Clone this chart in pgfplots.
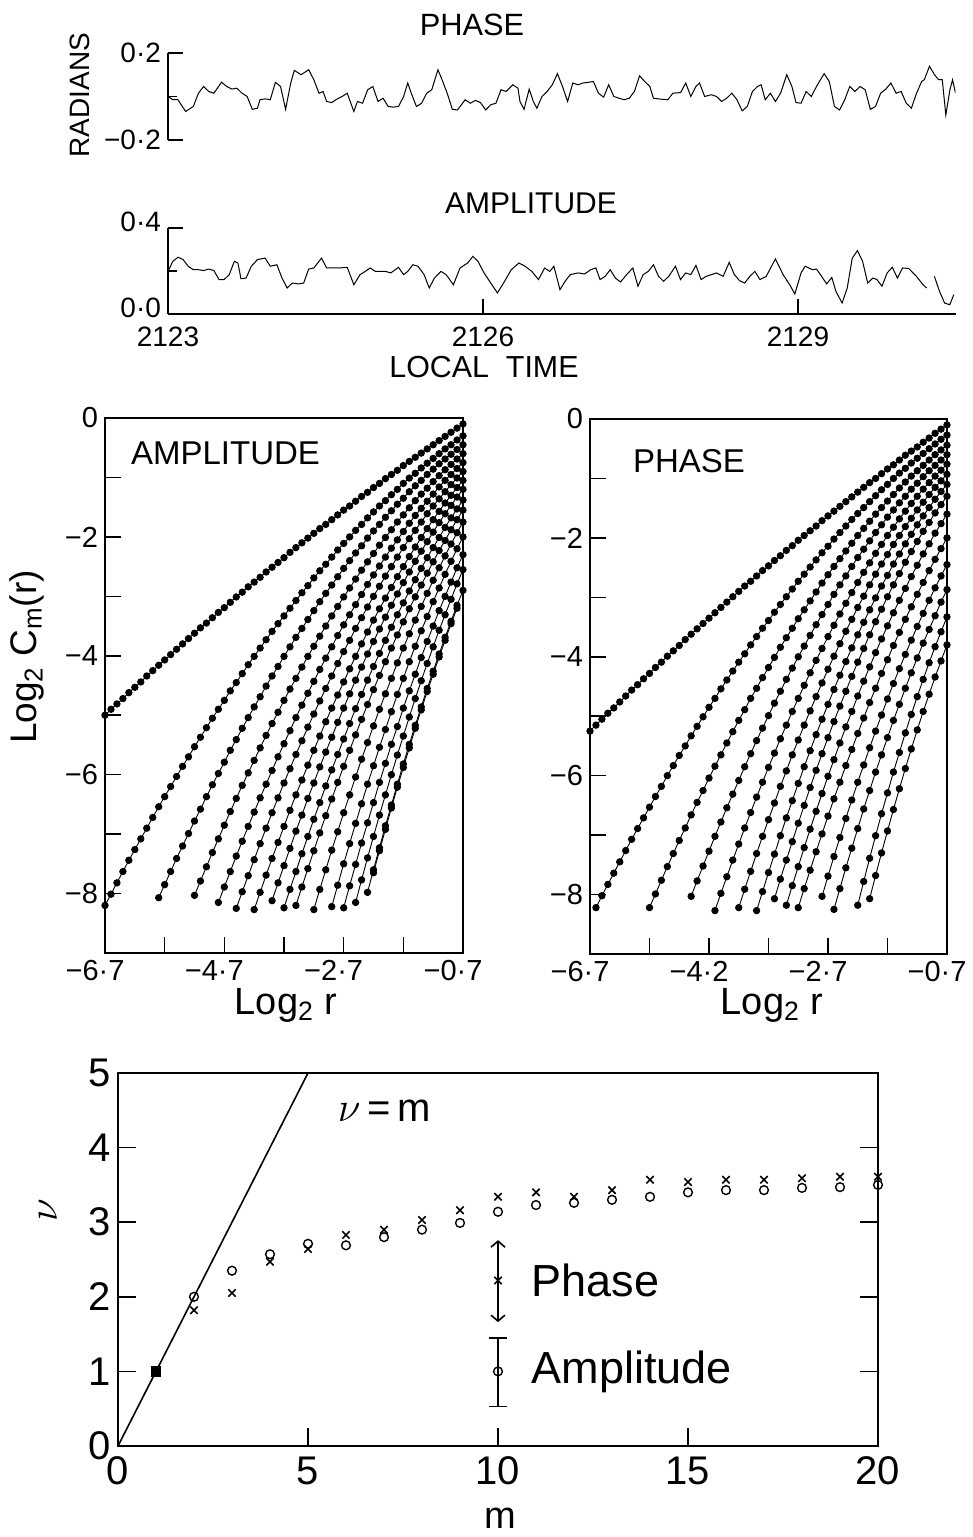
\documentclass[border=0pt]{standalone}
\usepackage{fontspec}
\setmainfont{Liberation Sans}
\usepackage{pgfplots}
\pgfplotsset{compat=1.18}
\usetikzlibrary{arrows.meta}
\pgfplotsset{
  dotc/.style={black, line width=0.45pt, mark=*, mark size=1.6pt, mark options={solid}},
  mid/.style={scale only axis, anchor=south west, xmin=-6.7, xmax=-0.7, ymin=-9, ymax=0,
    xtick={-6.7,-5.7,-4.7,-3.7,-2.7,-1.7,-0.7},
    ytick={-8,-7,-6,-5,-4,-3,-2,-1,0}, yticklabels={−8,,−6,,−4,,−2,,0},
    xtick pos=bottom, ytick pos=left, tick align=inside, major tick length=8pt,
    axis line style={line width=0.8pt}, every tick/.style={black,line width=0.8pt},
    tick label style={font=\fontsize{14.5}{16}\selectfont},
    xticklabel style={xshift=-5pt}},
}
\begin{document}
\begin{tikzpicture}
\useasboundingbox (0,0) rectangle (486.5pt,768.5pt);
% ---------------- top: phase time series
\begin{axis}[at={(84pt,698.5pt)}, anchor=south west, scale only axis,
  width=393.75pt, height=43.5pt, xmin=0, xmax=7.5, ymin=-0.2, ymax=0.2,
  axis x line=none, axis y line*=left,
  ytick={-0.2,0.2}, yticklabels={−0·2,0·2}, minor ytick={0},
  tick align=inside, major tick length=7.5pt, minor tick length=4.5pt,
  axis line style={line width=0.8pt}, every tick/.style={black,line width=0.8pt},
  tick label style={font=\fontsize{14}{16}\selectfont}]
\addplot[black, line width=0.5pt] coordinates {
(0,0) (0.046,-0.015) (0.095,-0.015) (0.168,-0.069) (0.241,-0.046) (0.290,0.015) (0.339,0.046) (0.388,0.023) (0.437,0.015) (0.510,0.066) (0.559,0.046) (0.608,0.034) (0.656,0.038) (0.705,0.015) (0.754,0) (0.803,-0.059) (0.852,-0.054) (0.876,-0.015) (0.925,-0.011) (0.974,-0.015) (1.023,0.065) (1.072,0.046) (1.120,-0.059) (1.169,0.062) (1.203,0.120) (1.267,0.100) (1.340,0.123) (1.389,0.077) (1.438,0.015) (1.477,0.023) (1.511,-0.023) (1.560,-0.028) (1.609,-0.012) (1.658,0) (1.707,0.015) (1.770,-0.069) (1.804,-0.023) (1.853,-0.031) (1.902,0.031) (1.951,0.046) (2.000,-0.023) (2.048,-0.008) (2.097,-0.046) (2.146,-0.049) (2.195,-0.046) (2.244,0) (2.283,0.062) (2.317,0.015) (2.366,-0.046) (2.415,-0.031) (2.464,0.015) (2.512,0.031) (2.571,0.123) (2.610,0.077) (2.659,0.015) (2.708,-0.059) (2.757,-0.062) (2.830,-0.015) (2.879,-0.031) (2.928,-0.018) (2.976,-0.028) (3.025,-0.062) (3.074,-0.038) (3.123,-0.031) (3.172,0.031) (3.221,0.023) (3.284,0.054) (3.333,0.038) (3.352,-0.023) (3.391,-0.059) (3.440,0.034) (3.479,-0.023) (3.513,-0.054) (3.562,0) (3.611,0.023) (3.660,0.054) (3.709,0.105) (3.757,0.046) (3.806,-0.023) (3.855,0.062) (3.904,0.054) (3.953,0.062) (4.002,0.065) (4.051,0.069) (4.100,0.015) (4.149,-0.003) (4.197,0.054) (4.246,0) (4.295,-0.008) (4.344,-0.015) (4.393,-0.008) (4.442,0.023) (4.491,0.095) (4.540,0.069) (4.589,0.046) (4.623,-0.008) (4.687,-0.012) (4.760,-0.015) (4.808,0.015) (4.882,0.018) (4.931,0.062) (4.979,0) (5.028,0.046) (5.062,0.062) (5.111,0) (5.175,0.008) (5.224,0) (5.272,-0.023) (5.321,-0.008) (5.370,0.015) (5.419,-0.015) (5.468,-0.066) (5.517,-0.046) (5.566,0.023) (5.615,0.046) (5.649,0.054) (5.688,-0.015) (5.737,0.015) (5.785,-0.023) (5.834,0.015) (5.893,0.100) (5.942,0.046) (5.981,-0.028) (6.029,-0.031) (6.078,0.023) (6.127,0) (6.176,0.046) (6.249,0.105) (6.298,0.069) (6.347,-0.046) (6.396,-0.062) (6.445,-0.015) (6.493,0.046) (6.542,0.023) (6.591,0.046) (6.640,0.031) (6.689,-0.059) (6.738,-0.046) (6.787,0.015) (6.836,0.034) (6.885,0.062) (6.934,0.015) (6.982,0.023) (7.031,-0.031) (7.080,-0.054) (7.129,0.015) (7.178,0.069) (7.203,0.077) (7.252,0.139) (7.300,0.100) (7.339,0.077) (7.374,0.077) (7.408,-0.085) (7.447,0.031) (7.472,0.077) (7.500,0.015)};
\end{axis}
% ---------------- top: amplitude time series
\begin{axis}[at={(84pt,611.5pt)}, anchor=south west, scale only axis,
  width=393.75pt, height=43pt, xmin=0, xmax=7.5, ymin=0, ymax=0.4,
  axis x line*=bottom, axis y line*=left,
  xtick={0,3,6}, xticklabels={2123,2126,2129},
  ytick={0,0.4}, yticklabels={0·0,0·4}, minor ytick={0.2},
  tick align=inside, major tick length=7.5pt, minor tick length=4.5pt,
  axis line style={line width=0.8pt}, every tick/.style={black,line width=0.8pt},
  tick label style={font=\fontsize{14}{16}\selectfont},
  xticklabel style={yshift=-3pt}, yticklabel style={yshift=3pt},
  unbounded coords=jump]
\addplot[black, line width=0.5pt] coordinates {
(0,0.198) (0.046,0.245) (0.095,0.264) (0.144,0.253) (0.192,0.222) (0.241,0.206) (0.290,0.206) (0.339,0.202) (0.388,0.209) (0.437,0.202) (0.486,0.160) (0.534,0.160) (0.583,0.183) (0.632,0.245) (0.666,0.237) (0.695,0.164) (0.744,0.167) (0.793,0.222) (0.852,0.253) (0.925,0.260) (0.974,0.222) (1.037,0.229) (1.086,0.167) (1.135,0.121) (1.184,0.144) (1.243,0.140) (1.292,0.144) (1.340,0.209) (1.389,0.214) (1.462,0.260) (1.511,0.214) (1.560,0.214) (1.633,0.214) (1.707,0.217) (1.770,0.136) (1.829,0.183) (1.878,0.198) (1.926,0.214) (1.975,0.198) (2.024,0.198) (2.073,0.198) (2.122,0.191) (2.195,0.217) (2.244,0.183) (2.283,0.198) (2.332,0.229) (2.381,0.222) (2.439,0.183) (2.488,0.121) (2.537,0.167) (2.600,0.198) (2.649,0.183) (2.718,0.136) (2.781,0.214) (2.854,0.237) (2.903,0.268) (2.952,0.245) (3.010,0.191) (3.074,0.144) (3.137,0.098) (3.196,0.144) (3.269,0.206) (3.342,0.237) (3.401,0.222) (3.465,0.198) (3.528,0.160) (3.587,0.214) (3.636,0.198) (3.675,0.222) (3.733,0.113) (3.782,0.152) (3.831,0.183) (3.904,0.191) (3.968,0.186) (4.026,0.206) (4.075,0.214) (4.115,0.160) (4.163,0.175) (4.212,0.206) (4.261,0.167) (4.310,0.149) (4.368,0.183) (4.427,0.214) (4.476,0.129) (4.525,0.183) (4.574,0.198) (4.623,0.229) (4.672,0.175) (4.720,0.152) (4.769,0.175) (4.833,0.222) (4.881,0.160) (4.930,0.191) (4.979,0.183) (5.028,0.226) (5.077,0.160) (5.125,0.175) (5.174,0.183) (5.223,0.191) (5.287,0.175) (5.345,0.240) (5.394,0.183) (5.443,0.155) (5.492,0.144) (5.541,0.175) (5.589,0.198) (5.638,0.160) (5.697,0.175) (5.785,0.256) (5.858,0.183) (5.921,0.136) (5.970,0.093) (6.029,0.191) (6.068,0.222) (6.137,0.206) (6.176,0.209) (6.225,0.175) (6.273,0.140) (6.322,0.170) (6.361,0.105) (6.420,0.051) (6.469,0.121) (6.517,0.260) (6.566,0.295) (6.615,0.245) (6.664,0.144) (6.713,0.167) (6.752,0.160) (6.800,0.129) (6.849,0.191) (6.898,0.217) (6.947,0.167) (6.996,0.214) (7.054,0.212) (7.128,0.175) (7.191,0.136) (7.225,0.121) (7.26,nan) (7.299,0.175) (7.348,0.105) (7.396,0.051) (7.445,0.043) (7.484,0.090)};
\end{axis}
% ---------------- middle left: amplitude C_m(r)
\begin{axis}[mid, at={(52.5pt,292pt)}, width=179pt, height=267.5pt,
  xticklabels={−6·7,,−4·7,,−2·7,,−0·7}]
\addplot[dotc] coordinates {(-6.7,-5.00)(-6.6,-4.90)(-6.5,-4.81)(-6.4,-4.72)(-6.3,-4.62)(-6.2,-4.53)(-6.1,-4.44)(-6.0,-4.34)(-5.9,-4.25)(-5.8,-4.16)(-5.7,-4.07)(-5.6,-3.98)(-5.5,-3.89)(-5.4,-3.80)(-5.3,-3.71)(-5.2,-3.62)(-5.1,-3.53)(-5.0,-3.45)(-4.9,-3.36)(-4.8,-3.27)(-4.7,-3.19)(-4.6,-3.10)(-4.5,-3.01)(-4.4,-2.93)(-4.3,-2.84)(-4.2,-2.76)(-4.1,-2.68)(-4.0,-2.59)(-3.9,-2.51)(-3.8,-2.43)(-3.7,-2.35)(-3.6,-2.26)(-3.5,-2.18)(-3.4,-2.10)(-3.3,-2.02)(-3.2,-1.94)(-3.1,-1.86)(-3.0,-1.79)(-2.9,-1.71)(-2.8,-1.63)(-2.7,-1.55)(-2.6,-1.48)(-2.5,-1.40)(-2.4,-1.32)(-2.3,-1.25)(-2.2,-1.17)(-2.1,-1.10)(-2.0,-1.02)(-1.9,-0.95)(-1.8,-0.88)(-1.7,-0.80)(-1.6,-0.73)(-1.5,-0.66)(-1.4,-0.59)(-1.3,-0.52)(-1.2,-0.45)(-1.1,-0.38)(-1.0,-0.31)(-0.9,-0.24)(-0.8,-0.17)(-0.7,-0.10)};
\addplot[dotc] coordinates {(-6.7,-8.20)(-6.6,-8.01)(-6.5,-7.82)(-6.4,-7.63)(-6.3,-7.44)(-6.2,-7.26)(-6.1,-7.08)(-6.0,-6.90)(-5.9,-6.72)(-5.8,-6.54)(-5.7,-6.37)(-5.6,-6.20)(-5.5,-6.03)(-5.4,-5.86)(-5.3,-5.70)(-5.2,-5.53)(-5.1,-5.37)(-5.0,-5.21)(-4.9,-5.05)(-4.8,-4.90)(-4.7,-4.75)(-4.6,-4.59)(-4.5,-4.45)(-4.4,-4.30)(-4.3,-4.15)(-4.2,-4.01)(-4.1,-3.87)(-4.0,-3.73)(-3.9,-3.59)(-3.8,-3.46)(-3.7,-3.33)(-3.6,-3.20)(-3.5,-3.07)(-3.4,-2.94)(-3.3,-2.82)(-3.2,-2.69)(-3.1,-2.57)(-3.0,-2.46)(-2.9,-2.34)(-2.8,-2.22)(-2.7,-2.11)(-2.6,-2.00)(-2.5,-1.89)(-2.4,-1.79)(-2.3,-1.68)(-2.2,-1.58)(-2.1,-1.48)(-2.0,-1.39)(-1.9,-1.29)(-1.8,-1.20)(-1.7,-1.10)(-1.6,-1.01)(-1.5,-0.93)(-1.4,-0.84)(-1.3,-0.76)(-1.2,-0.68)(-1.1,-0.60)(-1.0,-0.52)(-0.9,-0.45)(-0.8,-0.37)(-0.7,-0.30)};
\addplot[dotc] coordinates {(-5.8,-8.07)(-5.7,-7.85)(-5.6,-7.63)(-5.5,-7.41)(-5.4,-7.20)(-5.3,-6.99)(-5.2,-6.78)(-5.1,-6.58)(-5.0,-6.37)(-4.9,-6.17)(-4.8,-5.98)(-4.7,-5.79)(-4.6,-5.59)(-4.5,-5.41)(-4.4,-5.22)(-4.3,-5.04)(-4.2,-4.86)(-4.1,-4.69)(-4.0,-4.51)(-3.9,-4.34)(-3.8,-4.18)(-3.7,-4.01)(-3.6,-3.85)(-3.5,-3.69)(-3.4,-3.54)(-3.3,-3.39)(-3.2,-3.24)(-3.1,-3.09)(-3.0,-2.95)(-2.9,-2.81)(-2.8,-2.67)(-2.7,-2.53)(-2.6,-2.40)(-2.5,-2.27)(-2.4,-2.15)(-2.3,-2.02)(-2.2,-1.90)(-2.1,-1.79)(-2.0,-1.67)(-1.9,-1.56)(-1.8,-1.45)(-1.7,-1.35)(-1.6,-1.24)(-1.5,-1.14)(-1.4,-1.05)(-1.3,-0.95)(-1.2,-0.86)(-1.1,-0.77)(-1.0,-0.69)(-0.9,-0.61)(-0.8,-0.53)(-0.7,-0.45)};
\addplot[dotc] coordinates {(-5.2,-8.03)(-5.1,-7.79)(-5.0,-7.55)(-4.9,-7.31)(-4.8,-7.08)(-4.7,-6.85)(-4.6,-6.62)(-4.5,-6.40)(-4.4,-6.18)(-4.3,-5.97)(-4.2,-5.76)(-4.1,-5.55)(-4.0,-5.34)(-3.9,-5.14)(-3.8,-4.95)(-3.7,-4.75)(-3.6,-4.56)(-3.5,-4.38)(-3.4,-4.19)(-3.3,-4.01)(-3.2,-3.84)(-3.1,-3.67)(-3.0,-3.50)(-2.9,-3.33)(-2.8,-3.17)(-2.7,-3.01)(-2.6,-2.86)(-2.5,-2.71)(-2.4,-2.56)(-2.3,-2.42)(-2.2,-2.28)(-2.1,-2.14)(-2.0,-2.01)(-1.9,-1.88)(-1.8,-1.75)(-1.7,-1.63)(-1.6,-1.51)(-1.5,-1.39)(-1.4,-1.28)(-1.3,-1.18)(-1.2,-1.07)(-1.1,-0.97)(-1.0,-0.87)(-0.9,-0.78)(-0.8,-0.69)(-0.7,-0.60)};
\addplot[dotc] coordinates {(-4.8,-8.15)(-4.7,-7.89)(-4.6,-7.63)(-4.5,-7.37)(-4.4,-7.12)(-4.3,-6.87)(-4.2,-6.63)(-4.1,-6.39)(-4.0,-6.16)(-3.9,-5.93)(-3.8,-5.70)(-3.7,-5.48)(-3.6,-5.26)(-3.5,-5.04)(-3.4,-4.83)(-3.3,-4.63)(-3.2,-4.43)(-3.1,-4.23)(-3.0,-4.04)(-2.9,-3.85)(-2.8,-3.66)(-2.7,-3.48)(-2.6,-3.31)(-2.5,-3.14)(-2.4,-2.97)(-2.3,-2.80)(-2.2,-2.64)(-2.1,-2.49)(-2.0,-2.34)(-1.9,-2.19)(-1.8,-2.05)(-1.7,-1.91)(-1.6,-1.77)(-1.5,-1.64)(-1.4,-1.52)(-1.3,-1.40)(-1.2,-1.28)(-1.1,-1.16)(-1.0,-1.05)(-0.9,-0.95)(-0.8,-0.85)(-0.7,-0.75)};
\addplot[dotc] coordinates {(-4.5,-8.25)(-4.4,-7.97)(-4.3,-7.70)(-4.2,-7.43)(-4.1,-7.16)(-4.0,-6.90)(-3.9,-6.64)(-3.8,-6.39)(-3.7,-6.14)(-3.6,-5.90)(-3.5,-5.66)(-3.4,-5.43)(-3.3,-5.20)(-3.2,-4.98)(-3.1,-4.76)(-3.0,-4.55)(-2.9,-4.34)(-2.8,-4.13)(-2.7,-3.93)(-2.6,-3.74)(-2.5,-3.54)(-2.4,-3.36)(-2.3,-3.18)(-2.2,-3.00)(-2.1,-2.83)(-2.0,-2.66)(-1.9,-2.50)(-1.8,-2.34)(-1.7,-2.18)(-1.6,-2.03)(-1.5,-1.89)(-1.4,-1.75)(-1.3,-1.61)(-1.2,-1.48)(-1.1,-1.36)(-1.0,-1.24)(-0.9,-1.12)(-0.8,-1.01)(-0.7,-0.90)};
\addplot[dotc] coordinates {(-4.2,-8.27)(-4.1,-7.98)(-4.0,-7.69)(-3.9,-7.41)(-3.8,-7.14)(-3.7,-6.87)(-3.6,-6.60)(-3.5,-6.34)(-3.4,-6.09)(-3.3,-5.84)(-3.2,-5.59)(-3.1,-5.35)(-3.0,-5.11)(-2.9,-4.88)(-2.8,-4.66)(-2.7,-4.44)(-2.6,-4.22)(-2.5,-4.01)(-2.4,-3.80)(-2.3,-3.60)(-2.2,-3.40)(-2.1,-3.21)(-2.0,-3.03)(-1.9,-2.85)(-1.8,-2.67)(-1.7,-2.50)(-1.6,-2.33)(-1.5,-2.17)(-1.4,-2.01)(-1.3,-1.86)(-1.2,-1.71)(-1.1,-1.57)(-1.0,-1.43)(-0.9,-1.30)(-0.8,-1.17)(-0.7,-1.05)};
\addplot[dotc] coordinates {(-3.9,-8.12)(-3.8,-7.82)(-3.7,-7.53)(-3.6,-7.24)(-3.5,-6.95)(-3.4,-6.68)(-3.3,-6.40)(-3.2,-6.14)(-3.1,-5.87)(-3.0,-5.62)(-2.9,-5.37)(-2.8,-5.12)(-2.7,-4.88)(-2.6,-4.64)(-2.5,-4.41)(-2.4,-4.19)(-2.3,-3.97)(-2.2,-3.76)(-2.1,-3.55)(-2.0,-3.35)(-1.9,-3.15)(-1.8,-2.96)(-1.7,-2.77)(-1.6,-2.59)(-1.5,-2.41)(-1.4,-2.24)(-1.3,-2.08)(-1.2,-1.92)(-1.1,-1.76)(-1.0,-1.61)(-0.9,-1.47)(-0.8,-1.33)(-0.7,-1.20)};
\addplot[dotc] coordinates {(-3.7,-8.24)(-3.6,-7.93)(-3.5,-7.63)(-3.4,-7.33)(-3.3,-7.04)(-3.2,-6.75)(-3.1,-6.47)(-3.0,-6.19)(-2.9,-5.92)(-2.8,-5.66)(-2.7,-5.40)(-2.6,-5.14)(-2.5,-4.89)(-2.4,-4.65)(-2.3,-4.41)(-2.2,-4.18)(-2.1,-3.96)(-2.0,-3.74)(-1.9,-3.52)(-1.8,-3.31)(-1.7,-3.11)(-1.6,-2.91)(-1.5,-2.72)(-1.4,-2.53)(-1.3,-2.35)(-1.2,-2.18)(-1.1,-2.01)(-1.0,-1.84)(-0.9,-1.68)(-0.8,-1.53)(-0.7,-1.38)};
\addplot[dotc] coordinates {(-3.5,-8.20)(-3.4,-7.89)(-3.3,-7.58)(-3.2,-7.28)(-3.1,-6.98)(-3.0,-6.69)(-2.9,-6.41)(-2.8,-6.13)(-2.7,-5.86)(-2.6,-5.59)(-2.5,-5.33)(-2.4,-5.07)(-2.3,-4.82)(-2.2,-4.57)(-2.1,-4.33)(-2.0,-4.10)(-1.9,-3.87)(-1.8,-3.65)(-1.7,-3.43)(-1.6,-3.21)(-1.5,-3.01)(-1.4,-2.81)(-1.3,-2.61)(-1.2,-2.42)(-1.1,-2.23)(-1.0,-2.06)(-0.9,-1.88)(-0.8,-1.71)(-0.7,-1.55)};
\addplot[dotc] coordinates {(-3.2,-8.27)(-3.1,-7.93)(-3.0,-7.60)(-2.9,-7.27)(-2.8,-6.96)(-2.7,-6.64)(-2.6,-6.34)(-2.5,-6.04)(-2.4,-5.74)(-2.3,-5.46)(-2.2,-5.18)(-2.1,-4.90)(-2.0,-4.64)(-1.9,-4.38)(-1.8,-4.12)(-1.7,-3.87)(-1.6,-3.63)(-1.5,-3.40)(-1.4,-3.17)(-1.3,-2.95)(-1.2,-2.73)(-1.1,-2.52)(-1.0,-2.32)(-0.9,-2.12)(-0.8,-1.93)(-0.7,-1.75)};
\addplot[dotc] coordinates {(-2.9,-8.22)(-2.8,-7.86)(-2.7,-7.50)(-2.6,-7.16)(-2.5,-6.82)(-2.4,-6.49)(-2.3,-6.16)(-2.2,-5.85)(-2.1,-5.54)(-2.0,-5.24)(-1.9,-4.94)(-1.8,-4.65)(-1.7,-4.38)(-1.6,-4.10)(-1.5,-3.84)(-1.4,-3.58)(-1.3,-3.34)(-1.2,-3.09)(-1.1,-2.86)(-1.0,-2.63)(-0.9,-2.41)(-0.8,-2.20)(-0.7,-2.00)};
\addplot[dotc] coordinates {(-2.7,-8.24)(-2.6,-7.87)(-2.5,-7.51)(-2.4,-7.15)(-2.3,-6.81)(-2.2,-6.47)(-2.1,-6.13)(-2.0,-5.81)(-1.9,-5.49)(-1.8,-5.19)(-1.7,-4.88)(-1.6,-4.59)(-1.5,-4.31)(-1.4,-4.03)(-1.3,-3.76)(-1.2,-3.50)(-1.1,-3.24)(-1.0,-3.00)(-0.9,-2.76)(-0.8,-2.52)(-0.7,-2.30)};
\addplot[dotc] coordinates {(-2.5,-8.15)(-2.4,-7.77)(-2.3,-7.40)(-2.2,-7.04)(-2.1,-6.68)(-2.0,-6.34)(-1.9,-6.00)(-1.8,-5.67)(-1.7,-5.35)(-1.6,-5.03)(-1.5,-4.72)(-1.4,-4.42)(-1.3,-4.13)(-1.2,-3.85)(-1.1,-3.57)(-1.0,-3.31)(-0.9,-3.05)(-0.8,-2.79)(-0.7,-2.55)};
\addplot[dotc] coordinates {(-2.3,-7.98)(-2.2,-7.60)(-2.1,-7.23)(-2.0,-6.86)(-1.9,-6.51)(-1.8,-6.16)(-1.7,-5.82)(-1.6,-5.49)(-1.5,-5.17)(-1.4,-4.86)(-1.3,-4.55)(-1.2,-4.26)(-1.1,-3.97)(-1.0,-3.69)(-0.9,-3.42)(-0.8,-3.15)(-0.7,-2.90)};
\addplot[dotc] coordinates {(-2.2,-7.65)(-2.1,-7.28)(-2.0,-6.92)(-1.9,-6.56)(-1.8,-6.21)(-1.7,-5.88)(-1.6,-5.55)(-1.5,-5.22)(-1.4,-4.91)(-1.3,-4.60)(-1.2,-4.31)(-1.1,-4.02)(-1.0,-3.74)(-0.9,-3.46)(-0.8,-3.20)};
\end{axis}
% ---------------- middle right: phase C_m(r)
\begin{axis}[mid, at={(295pt,291.5pt)}, width=178.5pt, height=267.5pt,
  xticklabels={−6·7,,−4·2,,−2·7,,−0·7}]
\addplot[dotc] coordinates {(-6.7,-5.25)(-6.6,-5.15)(-6.5,-5.05)(-6.4,-4.95)(-6.3,-4.86)(-6.2,-4.76)(-6.1,-4.66)(-6.0,-4.56)(-5.9,-4.47)(-5.8,-4.37)(-5.7,-4.28)(-5.6,-4.18)(-5.5,-4.09)(-5.4,-3.99)(-5.3,-3.90)(-5.2,-3.81)(-5.1,-3.71)(-5.0,-3.62)(-4.9,-3.53)(-4.8,-3.44)(-4.7,-3.35)(-4.6,-3.26)(-4.5,-3.17)(-4.4,-3.08)(-4.3,-2.99)(-4.2,-2.90)(-4.1,-2.81)(-4.0,-2.73)(-3.9,-2.64)(-3.8,-2.55)(-3.7,-2.47)(-3.6,-2.38)(-3.5,-2.30)(-3.4,-2.21)(-3.3,-2.13)(-3.2,-2.04)(-3.1,-1.96)(-3.0,-1.88)(-2.9,-1.80)(-2.8,-1.71)(-2.7,-1.63)(-2.6,-1.55)(-2.5,-1.47)(-2.4,-1.39)(-2.3,-1.31)(-2.2,-1.23)(-2.1,-1.15)(-2.0,-1.07)(-1.9,-1.00)(-1.8,-0.92)(-1.7,-0.84)(-1.6,-0.77)(-1.5,-0.69)(-1.4,-0.61)(-1.3,-0.54)(-1.2,-0.47)(-1.1,-0.39)(-1.0,-0.32)(-0.9,-0.24)(-0.8,-0.17)(-0.7,-0.10)};
\addplot[dotc] coordinates {(-6.6,-8.22)(-6.5,-8.02)(-6.4,-7.83)(-6.3,-7.64)(-6.2,-7.45)(-6.1,-7.26)(-6.0,-7.07)(-5.9,-6.89)(-5.8,-6.71)(-5.7,-6.53)(-5.6,-6.35)(-5.5,-6.18)(-5.4,-6.00)(-5.3,-5.83)(-5.2,-5.66)(-5.1,-5.50)(-5.0,-5.33)(-4.9,-5.17)(-4.8,-5.01)(-4.7,-4.85)(-4.6,-4.70)(-4.5,-4.54)(-4.4,-4.39)(-4.3,-4.24)(-4.2,-4.09)(-4.1,-3.95)(-4.0,-3.80)(-3.9,-3.66)(-3.8,-3.52)(-3.7,-3.39)(-3.6,-3.25)(-3.5,-3.12)(-3.4,-2.99)(-3.3,-2.86)(-3.2,-2.73)(-3.1,-2.61)(-3.0,-2.49)(-2.9,-2.37)(-2.8,-2.25)(-2.7,-2.14)(-2.6,-2.02)(-2.5,-1.91)(-2.4,-1.80)(-2.3,-1.69)(-2.2,-1.59)(-2.1,-1.49)(-2.0,-1.39)(-1.9,-1.29)(-1.8,-1.19)(-1.7,-1.10)(-1.6,-1.00)(-1.5,-0.91)(-1.4,-0.83)(-1.3,-0.74)(-1.2,-0.66)(-1.1,-0.58)(-1.0,-0.50)(-0.9,-0.42)(-0.8,-0.34)(-0.7,-0.27)};
\addplot[dotc] coordinates {(-5.7,-8.22)(-5.6,-7.99)(-5.5,-7.76)(-5.4,-7.53)(-5.3,-7.31)(-5.2,-7.09)(-5.1,-6.88)(-5.0,-6.66)(-4.9,-6.45)(-4.8,-6.25)(-4.7,-6.04)(-4.6,-5.84)(-4.5,-5.65)(-4.4,-5.45)(-4.3,-5.26)(-4.2,-5.07)(-4.1,-4.89)(-4.0,-4.70)(-3.9,-4.53)(-3.8,-4.35)(-3.7,-4.18)(-3.6,-4.01)(-3.5,-3.84)(-3.4,-3.68)(-3.3,-3.52)(-3.2,-3.36)(-3.1,-3.21)(-3.0,-3.06)(-2.9,-2.91)(-2.8,-2.76)(-2.7,-2.62)(-2.6,-2.48)(-2.5,-2.35)(-2.4,-2.22)(-2.3,-2.09)(-2.2,-1.96)(-2.1,-1.84)(-2.0,-1.72)(-1.9,-1.60)(-1.8,-1.49)(-1.7,-1.38)(-1.6,-1.27)(-1.5,-1.16)(-1.4,-1.06)(-1.3,-0.96)(-1.2,-0.87)(-1.1,-0.78)(-1.0,-0.69)(-0.9,-0.60)(-0.8,-0.52)(-0.7,-0.44)};
\addplot[dotc] coordinates {(-5.0,-8.03)(-4.9,-7.77)(-4.8,-7.52)(-4.7,-7.27)(-4.6,-7.02)(-4.5,-6.78)(-4.4,-6.54)(-4.3,-6.31)(-4.2,-6.08)(-4.1,-5.85)(-4.0,-5.63)(-3.9,-5.41)(-3.8,-5.20)(-3.7,-4.99)(-3.6,-4.78)(-3.5,-4.58)(-3.4,-4.38)(-3.3,-4.19)(-3.2,-4.00)(-3.1,-3.82)(-3.0,-3.64)(-2.9,-3.46)(-2.8,-3.29)(-2.7,-3.12)(-2.6,-2.95)(-2.5,-2.79)(-2.4,-2.64)(-2.3,-2.48)(-2.2,-2.33)(-2.1,-2.19)(-2.0,-2.05)(-1.9,-1.91)(-1.8,-1.78)(-1.7,-1.65)(-1.6,-1.53)(-1.5,-1.41)(-1.4,-1.30)(-1.3,-1.18)(-1.2,-1.08)(-1.1,-0.97)(-1.0,-0.87)(-0.9,-0.78)(-0.8,-0.69)(-0.7,-0.60)};
\addplot[dotc] coordinates {(-4.6,-8.27)(-4.5,-7.98)(-4.4,-7.70)(-4.3,-7.42)(-4.2,-7.15)(-4.1,-6.88)(-4.0,-6.62)(-3.9,-6.36)(-3.8,-6.11)(-3.7,-5.86)(-3.6,-5.62)(-3.5,-5.38)(-3.4,-5.15)(-3.3,-4.92)(-3.2,-4.70)(-3.1,-4.48)(-3.0,-4.27)(-2.9,-4.06)(-2.8,-3.86)(-2.7,-3.66)(-2.6,-3.47)(-2.5,-3.28)(-2.4,-3.10)(-2.3,-2.92)(-2.2,-2.75)(-2.1,-2.58)(-2.0,-2.42)(-1.9,-2.26)(-1.8,-2.11)(-1.7,-1.96)(-1.6,-1.82)(-1.5,-1.68)(-1.4,-1.55)(-1.3,-1.42)(-1.2,-1.30)(-1.1,-1.18)(-1.0,-1.07)(-0.9,-0.96)(-0.8,-0.86)(-0.7,-0.76)};
\addplot[dotc] coordinates {(-4.2,-8.22)(-4.1,-7.91)(-4.0,-7.61)(-3.9,-7.31)(-3.8,-7.02)(-3.7,-6.74)(-3.6,-6.46)(-3.5,-6.18)(-3.4,-5.92)(-3.3,-5.65)(-3.2,-5.40)(-3.1,-5.15)(-3.0,-4.91)(-2.9,-4.67)(-2.8,-4.44)(-2.7,-4.21)(-2.6,-3.99)(-2.5,-3.78)(-2.4,-3.57)(-2.3,-3.37)(-2.2,-3.17)(-2.1,-2.98)(-2.0,-2.79)(-1.9,-2.61)(-1.8,-2.44)(-1.7,-2.28)(-1.6,-2.11)(-1.5,-1.96)(-1.4,-1.81)(-1.3,-1.67)(-1.2,-1.53)(-1.1,-1.40)(-1.0,-1.27)(-0.9,-1.15)(-0.8,-1.04)(-0.7,-0.93)};
\addplot[dotc] coordinates {(-3.9,-8.27)(-3.8,-7.95)(-3.7,-7.63)(-3.6,-7.32)(-3.5,-7.01)(-3.4,-6.71)(-3.3,-6.42)(-3.2,-6.13)(-3.1,-5.85)(-3.0,-5.58)(-2.9,-5.31)(-2.8,-5.05)(-2.7,-4.80)(-2.6,-4.55)(-2.5,-4.31)(-2.4,-4.08)(-2.3,-3.85)(-2.2,-3.63)(-2.1,-3.42)(-2.0,-3.21)(-1.9,-3.01)(-1.8,-2.81)(-1.7,-2.63)(-1.6,-2.44)(-1.5,-2.27)(-1.4,-2.10)(-1.3,-1.94)(-1.2,-1.78)(-1.1,-1.63)(-1.0,-1.49)(-0.9,-1.35)(-0.8,-1.22)(-0.7,-1.10)};
\addplot[dotc] coordinates {(-3.6,-8.07)(-3.5,-7.74)(-3.4,-7.42)(-3.3,-7.11)(-3.2,-6.80)(-3.1,-6.50)(-3.0,-6.20)(-2.9,-5.91)(-2.8,-5.63)(-2.7,-5.36)(-2.6,-5.09)(-2.5,-4.83)(-2.4,-4.58)(-2.3,-4.33)(-2.2,-4.09)(-2.1,-3.86)(-2.0,-3.63)(-1.9,-3.41)(-1.8,-3.20)(-1.7,-2.99)(-1.6,-2.79)(-1.5,-2.60)(-1.4,-2.41)(-1.3,-2.23)(-1.2,-2.06)(-1.1,-1.89)(-1.0,-1.74)(-0.9,-1.58)(-0.8,-1.44)(-0.7,-1.30)};
\addplot[dotc] coordinates {(-3.4,-8.18)(-3.3,-7.85)(-3.2,-7.53)(-3.1,-7.21)(-3.0,-6.90)(-2.9,-6.60)(-2.8,-6.30)(-2.7,-6.01)(-2.6,-5.73)(-2.5,-5.45)(-2.4,-5.18)(-2.3,-4.92)(-2.2,-4.66)(-2.1,-4.41)(-2.0,-4.17)(-1.9,-3.93)(-1.8,-3.70)(-1.7,-3.48)(-1.6,-3.26)(-1.5,-3.05)(-1.4,-2.85)(-1.3,-2.65)(-1.2,-2.46)(-1.1,-2.27)(-1.0,-2.10)(-0.9,-1.92)(-0.8,-1.76)(-0.7,-1.60)};
\addplot[dotc] coordinates {(-3.2,-8.22)(-3.1,-7.90)(-3.0,-7.59)(-2.9,-7.28)(-2.8,-6.98)(-2.7,-6.68)(-2.6,-6.39)(-2.5,-6.11)(-2.4,-5.83)(-2.3,-5.56)(-2.2,-5.29)(-2.1,-5.03)(-2.0,-4.77)(-1.9,-4.53)(-1.8,-4.28)(-1.7,-4.05)(-1.6,-3.81)(-1.5,-3.59)(-1.4,-3.37)(-1.3,-3.16)(-1.2,-2.95)(-1.1,-2.75)(-1.0,-2.55)(-0.9,-2.36)(-0.8,-2.18)(-0.7,-2.00)};
\addplot[dotc] coordinates {(-2.8,-8.03)(-2.7,-7.69)(-2.6,-7.36)(-2.5,-7.04)(-2.4,-6.72)(-2.3,-6.41)(-2.2,-6.11)(-2.1,-5.82)(-2.0,-5.53)(-1.9,-5.25)(-1.8,-4.98)(-1.7,-4.71)(-1.6,-4.45)(-1.5,-4.20)(-1.4,-3.96)(-1.3,-3.72)(-1.2,-3.49)(-1.1,-3.27)(-1.0,-3.05)(-0.9,-2.84)(-0.8,-2.64)(-0.7,-2.45)};
\addplot[dotc] coordinates {(-2.6,-8.25)(-2.5,-7.90)(-2.4,-7.55)(-2.3,-7.22)(-2.2,-6.89)(-2.1,-6.56)(-2.0,-6.25)(-1.9,-5.94)(-1.8,-5.65)(-1.7,-5.36)(-1.6,-5.07)(-1.5,-4.80)(-1.4,-4.53)(-1.3,-4.27)(-1.2,-4.02)(-1.1,-3.77)(-1.0,-3.54)(-0.9,-3.31)(-0.8,-3.08)(-0.7,-2.87)};
\addplot[dotc] coordinates {(-2.2,-8.18)(-2.1,-7.78)(-2.0,-7.39)(-1.9,-7.01)(-1.8,-6.64)(-1.7,-6.29)(-1.6,-5.94)(-1.5,-5.61)(-1.4,-5.28)(-1.3,-4.97)(-1.2,-4.67)(-1.1,-4.38)(-1.0,-4.10)(-0.9,-3.83)(-0.8,-3.58)(-0.7,-3.33)};
\addplot[dotc] coordinates {(-2.0,-8.07)(-1.9,-7.68)(-1.8,-7.30)(-1.7,-6.93)(-1.6,-6.57)(-1.5,-6.22)(-1.4,-5.88)(-1.3,-5.55)(-1.2,-5.23)(-1.1,-4.92)(-1.0,-4.63)(-0.9,-4.34)(-0.8,-4.07)(-0.7,-3.80)};
\end{axis}
% ---------------- bottom: nu vs m
\begin{axis}[at={(59pt,45.5pt)}, anchor=south west, scale only axis,
  width=380pt, height=186.5pt, xmin=0, xmax=20, ymin=0, ymax=5,
  xtick={0,5,10,15,20}, xticklabels={0,5,10,15,20},
  ytick={0,1,2,3,4,5}, yticklabels={0,1,2,3,4,5},
  xtick pos=bottom, ytick pos=both, tick align=inside, major tick length=9pt,
  axis line style={line width=0.8pt}, every tick/.style={black,line width=0.8pt},
  tick label style={font=\fontsize{20}{24}\selectfont},
  xticklabel style={yshift=-2pt}, clip=false]
\addplot[black, line width=0.8pt] coordinates {(0,0) (5,5)};
\addplot[only marks, mark=o, mark size=2.2pt, mark options={line width=0.7pt}] coordinates {
(2,2.0)(3,2.35)(4,2.57)(5,2.71)(6,2.69)(7,2.8)(8,2.9)(9,2.99)(10,3.14)(11,3.23)(12,3.26)(13,3.3)(14,3.34)(15,3.4)(16,3.43)(17,3.43)(18,3.46)(19,3.47)(20,3.5)};
\addplot[only marks, mark=x, mark size=2.6pt, mark options={line width=0.8pt}] coordinates {
(2,1.82)(3,2.05)(4,2.47)(5,2.64)(6,2.83)(7,2.9)(8,3.03)(9,3.16)(10,3.34)(11,3.4)(12,3.34)(13,3.43)(14,3.57)(15,3.54)(16,3.57)(17,3.57)(18,3.59)(19,3.61)(20,3.61)};
\addplot[only marks, mark=square*, mark size=2.4pt] coordinates {(1,1.0)};
% key
\addplot[black, line width=0.8pt, arrows={Straight Barb[length=3pt,width=7pt]-Straight Barb[length=3pt,width=7pt]}] coordinates {(10,1.66) (10,2.76)};
\addplot[only marks, mark=x, mark size=2.6pt, mark options={line width=0.8pt}] coordinates {(10,2.22)};
\addplot[black, line width=0.8pt, arrows={Bar[width=9pt]-Bar[width=9pt]}] coordinates {(10,0.52) (10,1.46)};
\addplot[only marks, mark=o, mark size=2.2pt, mark options={line width=0.7pt, fill=white}] coordinates {(10,1.0)};
\node[anchor=west, font=\fontsize{22.5}{26}\selectfont] at (axis cs:10.7,2.22) {Phase};
\node[anchor=west, font=\fontsize{22.5}{26}\selectfont] at (axis cs:10.7,1.0) {Amplitude};
\node[anchor=west, font=\fontsize{20}{24}\selectfont] at (axis cs:5.6,4.5) {$\nu$\,=\,m};
\end{axis}
% ---------------- free text
\node[font=\fontsize{15.4}{18}\selectfont] at (236pt,756pt) {PHASE};
\node[font=\fontsize{14}{16}\selectfont, rotate=90] at (40pt,721pt) {RADIANS};
\node[font=\fontsize{15}{18}\selectfont] at (265.5pt,667pt) {AMPLITUDE};
\node[font=\fontsize{15.2}{18}\selectfont] at (242pt,585pt) {LOCAL\ \ TIME};
\node[font=\fontsize{16.5}{19}\selectfont, anchor=west] at (62pt,542pt) {AMPLITUDE};
\node[font=\fontsize{16.5}{19}\selectfont, anchor=west] at (313pt,538pt) {PHASE};
\node[font=\fontsize{19}{22}\selectfont] at (143pt,266pt) {Log\textsubscript{2} r};
\node[font=\fontsize{19}{22}\selectfont] at (386pt,266pt) {Log\textsubscript{2} r};
\node[font=\fontsize{18.5}{22}\selectfont, rotate=90] at (13.5pt,440pt) {Log\textsubscript{2} C\textsubscript{m}(r)};
\node[font=\fontsize{19}{22}\selectfont, inner sep=0pt] at (250pt,9.5pt) {m};
\node[font=\fontsize{22}{26}\selectfont, rotate=90] at (24pt,163.5pt) {$\nu$};
\end{tikzpicture}
\end{document}
